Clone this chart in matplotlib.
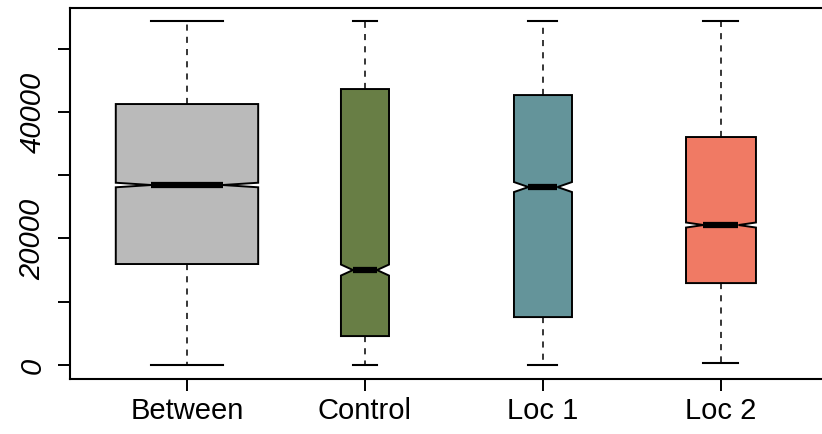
import matplotlib
matplotlib.use("Agg")
import matplotlib.pyplot as plt

# ---- data ----
groups = ["Between", "Control", "Loc 1", "Loc 2"]
medians = [28440, 15010, 28120, 22120]
q1s = [15960, 4580, 7580, 12950]
q3s = [41230, 43600, 42650, 36020]
whislos = [0, 0, 0, 300]
whishis = [54300, 54300, 54300, 54300]
notch_lo = [28080, 14140, 27330, 21720]
notch_hi = [28800, 15880, 28910, 22520]
box_widths = [0.80, 0.27, 0.326, 0.393]
colors = ["#BABABA", "#687E45", "#64949A", "#F07A64"]
yticks = [0, 10000, 20000, 30000, 40000, 50000]
ytick_labels = ["0", "", "20000", "", "40000", ""]

plt.rcParams["font.family"] = ["Liberation Sans", "DejaVu Sans"]

fig = plt.figure(figsize=(8.22, 4.35), dpi=100)
W, H = 822, 435
left_px, top_px, bottom_px = 69.5, 9, 380
ax_w_px = 4.32 * 178
ax = fig.add_axes([left_px / W, 1 - bottom_px / H, ax_w_px / W, (bottom_px - top_px) / H])

stats = []
for i, g in enumerate(groups):
    stats.append(dict(label=g, med=medians[i], q1=q1s[i], q3=q3s[i],
                      whislo=whislos[i], whishi=whishis[i],
                      cilo=notch_lo[i], cihi=notch_hi[i], fliers=[]))

positions = list(range(1, len(groups) + 1))
bp = ax.bxp(stats, positions=positions, widths=box_widths, patch_artist=True,
            shownotches=True, showfliers=False,
            boxprops=dict(linewidth=1.4, edgecolor="black"),
            whiskerprops=dict(linewidth=1.1, linestyle=(0, (4, 4)), color="black"),
            capprops=dict(linewidth=1.5, color="black"),
            medianprops=dict(linewidth=4.5, color="black", solid_capstyle="butt"))
for patch, c in zip(bp["boxes"], colors):
    patch.set_facecolor(c)

ax.set_xlim(0.34, 4.66)
ax.set_ylim(-2200, 56400)

ax.set_yticks(yticks)
ax.set_yticklabels(ytick_labels, rotation=90, va="center", fontsize=21, style="italic")
ax.set_xticks(positions)
ax.set_xticklabels(groups, fontsize=21)
ax.tick_params(axis="y", length=8.5, width=1.4, pad=8)
ax.tick_params(axis="x", length=8.5, width=1.4, pad=4)
for s in ax.spines.values():
    s.set_linewidth(1.5)

fig.savefig("out.png", dpi=100)
